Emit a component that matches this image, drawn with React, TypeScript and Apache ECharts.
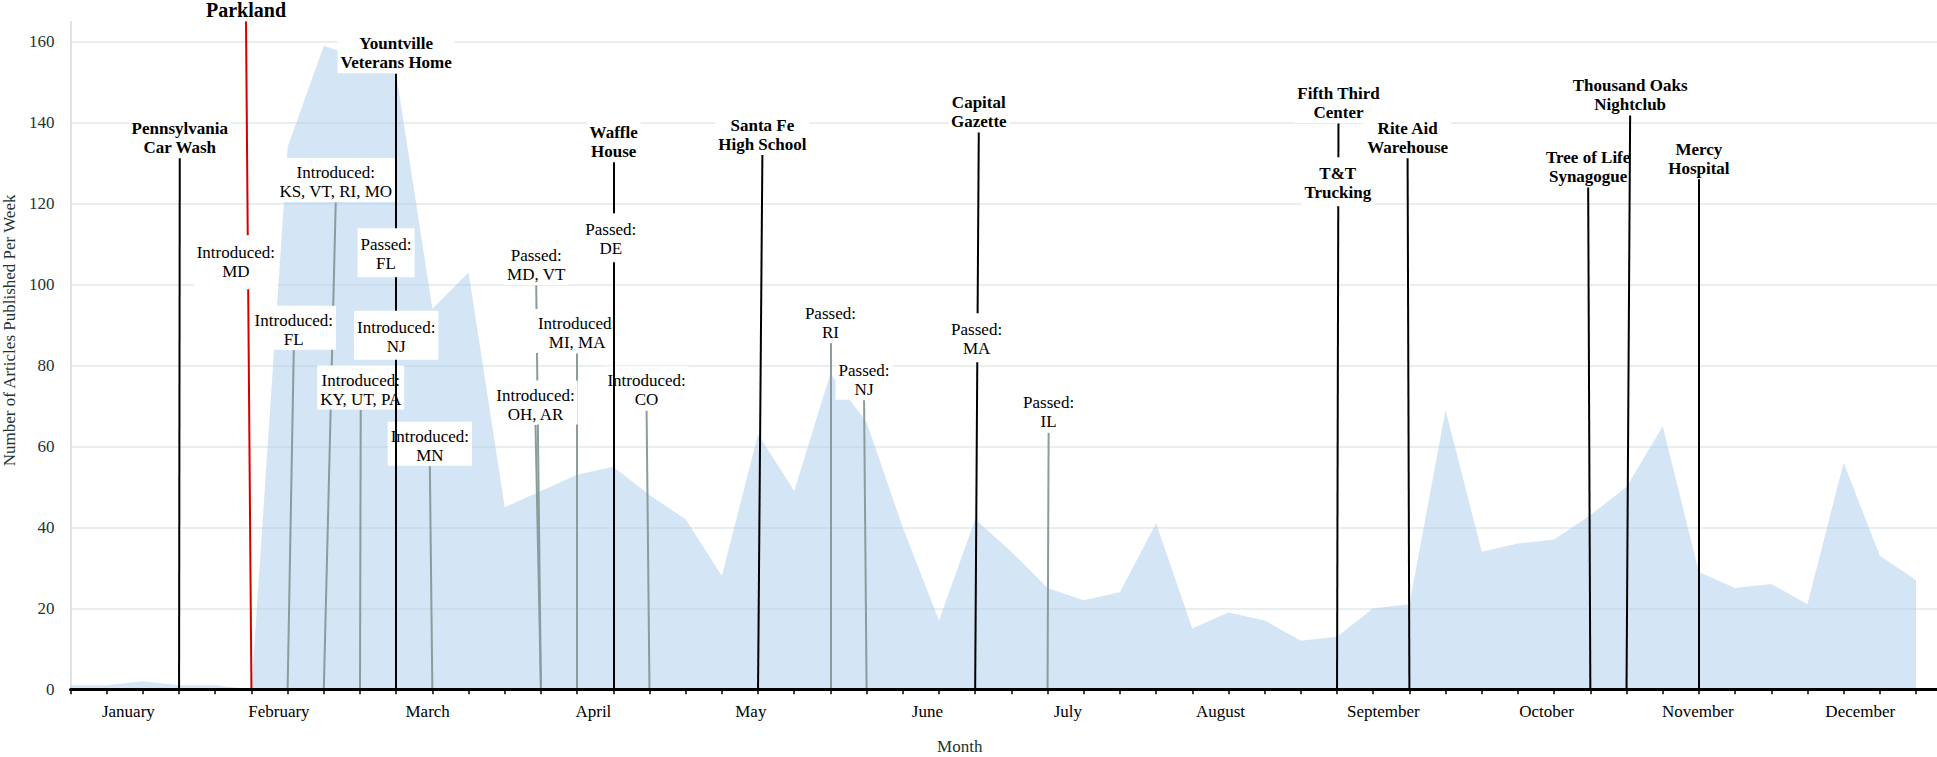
import React, { useEffect, useRef } from "react";
import * as echarts from "echarts";

const FONT = '"Liberation Serif", "Times New Roman", Times, serif';

// Weekly ticks (one per week of 2018)
const WEEK_TICKS = Array.from({ length: 52 }, (_, i) => i);

// Month labels and their positions on the week axis
const MONTHS = [
  "January", "February", "March", "April", "May", "June",
  "July", "August", "September", "October", "November", "December",
];
const MONTH_POS = [1.6, 5.76, 9.87, 14.45, 18.8, 23.68, 27.56, 31.78, 36.28, 40.79, 44.97, 49.46];

const Y_TICKS = [0, 20, 40, 60, 80, 100, 120, 140, 160];

// Number of articles published per week
const ARTICLES = [
  1, 1, 2, 1, 1, 0, 134, 159, 156, 152, 94, 103,
  45, 49, 53, 55, 48, 42, 28, 63, 49, 78, 66, 40,
  17, 42, 34, 25, 22, 24, 41, 15, 19, 17, 12, 13,
  20, 21, 69, 34, 36, 37, 43, 50, 65, 29, 25, 26,
  21, 56, 33, 27,
];

// Mass shootings: week of event, label position, top of marker line
const SHOOTINGS = [
  { name: "Pennsylvania\nCar Wash", week: 3, labelWeek: 3.02, top: 131.2 },
  { name: "Yountville\nVeterans Home", week: 9, labelWeek: 9.0, top: 152.1 },
  { name: "Waffle\nHouse", week: 15, labelWeek: 15.01, top: 130.2 },
  { name: "Santa Fe\nHigh School", week: 19, labelWeek: 19.12, top: 132 },
  { name: "Capital\nGazette", week: 25, labelWeek: 25.1, top: 137.6 },
  { name: "Fifth Third\nCenter", week: 35, labelWeek: 35.04, top: 139.8 },
  { name: "Rite Aid\nWarehouse", week: 37, labelWeek: 36.95, top: 131.2 },
  { name: "Tree of Life\nSynagogue", week: 42, labelWeek: 41.94, top: 124, noBg: true },
  { name: "Thousand Oaks\nNightclub", week: 43, labelWeek: 43.1, top: 141.8 },
  { name: "Mercy\nHospital", week: 45, labelWeek: 45.0, top: 126 },
];

const PARKLAND = { name: "Parkland", week: 5, labelWeek: 4.85, top: 165 };

// Legislation with their own marker lines
const LEGISLATION = [
  { name: "Introduced:\nFL", week: 6, labelWeek: 6.17, top: 83.8 },
  { name: "Introduced:\nKS, VT, RI, MO", week: 7, labelWeek: 7.33, top: 120.3 },
  { name: "Introduced:\nKY, UT, PA", week: 8, labelWeek: 8.02, top: 69 },
  { name: "Introduced:\nMN", week: 10, labelWeek: 9.93, top: 55.1 },
  { name: "Passed:\nMD, VT", week: 13, labelWeek: 12.87, top: 99.8 },
  { name: "Introduced:\nOH, AR", week: 13, labelWeek: 12.85, top: 65.3 },
  { name: "Introduced:\nMI, MA", week: 14, labelWeek: 14.0, top: 83 },
  { name: "Introduced:\nCO", week: 16, labelWeek: 15.92, top: 68.8 },
  { name: "Passed:\nRI", week: 21, labelWeek: 21.0, top: 85.5 },
  { name: "Passed:\nNJ", week: 22, labelWeek: 21.93, top: 71.4 },
  { name: "Passed:\nIL", week: 27, labelWeek: 27.03, top: 63.4 },
];

// Labels that sit on another event's line (they interrupt it)
const ON_LINE_LABELS = [
  { name: "Introduced:\nMD", labelWeek: 4.57, top: 98.7, bold: false, pad: [8, 3, 8, 3] },
  { name: "Passed:\nFL", labelWeek: 8.72, top: 101.7, bold: false },
  { name: "Introduced:\nNJ", labelWeek: 9.0, top: 81.3, bold: false },
  { name: "Passed:\nDE", labelWeek: 14.93, top: 105.4, bold: false },
  { name: "Passed:\nMA", labelWeek: 25.04, top: 80.7, bold: false },
  { name: "T&T\nTrucking", labelWeek: 35.02, top: 119.2, bold: true },
];

function App() {
  const ref = useRef<HTMLDivElement>(null);

  useEffect(() => {
    const chart = echarts.init(ref.current as HTMLDivElement, undefined, { renderer: "svg" });

    const baseLabel = {
      show: true,
      position: "top",
      distance: 0,
      color: "#000",
      fontFamily: FONT,
      fontSize: 17,
      lineHeight: 19,
      align: "center",
      backgroundColor: "#fff",
      padding: [5, 3, 1, 3],
      formatter: (p: any) => p.name,
    };

    const labelsA = [
      ...LEGISLATION.map((e) => ({
        name: e.name,
        value: [e.labelWeek, e.top],
        label: { fontWeight: "normal" },
      })),
      ...SHOOTINGS.map((e) => ({
        name: e.name,
        value: [e.labelWeek, e.top],
        label: {
          fontWeight: "bold",
          backgroundColor: (e as any).noBg ? "transparent" : "#fff",
        },
      })),
      {
        name: PARKLAND.name,
        value: [PARKLAND.labelWeek, PARKLAND.top],
        label: { fontWeight: "bold", fontSize: 20, lineHeight: 20, padding: [0, 3, 1, 3] },
      },
    ];

    const labelsB = ON_LINE_LABELS.map((e) => ({
      name: e.name,
      value: [e.labelWeek, e.top],
      label: {
        fontWeight: e.bold ? "bold" : "normal",
        padding: e.pad || [7, 3, 4, 3],
      },
    }));

    const option: any = {
      animation: false,
      textStyle: { fontFamily: FONT },
      grid: {
        left: 70.5,
        right: 0,
        top: 21.5,
        bottom: 67.7,
        containLabel: false,
        outerBoundsMode: "none",
      },
      xAxis: {
        type: "value",
        min: 0,
        max: 51.58,
        z: 6,
        axisLine: { show: true, onZero: true, lineStyle: { color: "#000", width: 3 } },
        axisTick: {
          show: true,
          customValues: WEEK_TICKS,
          length: 5,
          lineStyle: { color: "#000", width: 1.5 },
        },
        axisLabel: {
          customValues: MONTH_POS,
          formatter: (v: number) => {
            const i = MONTH_POS.findIndex((p) => Math.abs(p - v) < 1e-6);
            return i >= 0 ? MONTHS[i] : "";
          },
          color: "#000",
          fontSize: 17,
          fontFamily: FONT,
          margin: 14,
        },
        splitLine: { show: false },
        name: "Month",
        nameLocation: "middle",
        nameGap: 49,
        nameTextStyle: {
          color: "#233333",
          fontSize: 17,
          fontFamily: FONT,
          padding: [0, 88, 0, 0],
        },
      },
      yAxis: {
        type: "value",
        min: 0,
        max: 165,
        axisLine: { show: true, lineStyle: { color: "#d5dddd", width: 1.5 } },
        axisTick: { show: false, customValues: Y_TICKS },
        axisLabel: {
          customValues: Y_TICKS,
          color: "#233333",
          fontSize: 17,
          fontFamily: FONT,
          margin: 16,
        },
        splitLine: { show: true, lineStyle: { color: "#e2e8e8", width: 1.5 } },
        name: "Number of Articles Published Per Week",
        nameLocation: "middle",
        nameGap: 52,
        nameTextStyle: {
          color: "#233333",
          fontSize: 17,
          fontFamily: FONT,
          padding: [0, 0, 0, 50],
        },
      },
      series: [
        {
          type: "line",
          name: "Articles",
          data: ARTICLES.map((v, i) => [i, v]),
          symbol: "none",
          silent: true,
          z: 1,
          lineStyle: { width: 0 },
          areaStyle: { color: "rgb(169,205,235)", opacity: 0.5 },
        },
        {
          type: "lines",
          coordinateSystem: "cartesian2d",
          silent: true,
          z: 2,
          lineStyle: { color: "#8b9c9c", width: 2, opacity: 1, curveness: 0 },
          data: LEGISLATION.map((e) => ({ coords: [[e.labelWeek, e.top], [e.week, 0]] })),
        },
        {
          type: "scatter",
          silent: true,
          z: 3,
          symbol: "rect",
          symbolSize: 1,
          itemStyle: { color: "transparent", opacity: 1 },
          label: baseLabel,
          data: labelsA,
        },
        {
          type: "lines",
          coordinateSystem: "cartesian2d",
          silent: true,
          z: 4,
          lineStyle: { color: "#000", width: 2, opacity: 1, curveness: 0 },
          data: [
            ...SHOOTINGS.map((e) => ({ coords: [[e.labelWeek, e.top], [e.week, 0]] })),
            {
              coords: [[PARKLAND.labelWeek, PARKLAND.top], [PARKLAND.week, 0]],
              lineStyle: { color: "#d40000", width: 2, opacity: 1 },
            },
          ],
        },
        {
          type: "scatter",
          silent: true,
          z: 5,
          symbol: "rect",
          symbolSize: 1,
          itemStyle: { color: "transparent", opacity: 1 },
          label: baseLabel,
          data: labelsB,
        },
      ],
    };

    chart.setOption(option);
    return () => chart.dispose();
  }, []);

  return (
    <div
      ref={ref}
      style={{ position: "absolute", left: 0, top: 0, width: 1937, height: 757 }}
    />
  );
}

export default App;
